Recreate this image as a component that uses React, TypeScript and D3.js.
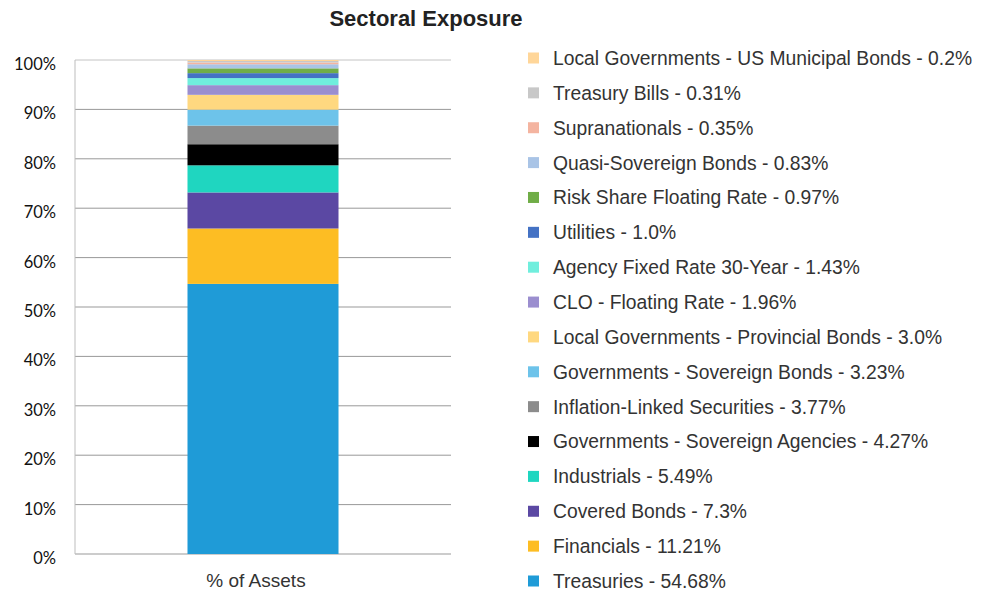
import React from 'react'
import * as d3 from 'd3'

// sectors, bottom of the stack first
const sectors = [
	'Treasuries',
	'Financials',
	'Covered Bonds',
	'Industrials',
	'Governments - Sovereign Agencies',
	'Inflation-Linked Securities',
	'Governments - Sovereign Bonds',
	'Local Governments - Provincial Bonds',
	'CLO - Floating Rate',
	'Agency Fixed Rate 30-Year',
	'Utilities',
	'Risk Share Floating Rate',
	'Quasi-Sovereign Bonds',
	'Supranationals',
	'Treasury Bills',
	'Local Governments - US Municipal Bonds'
]
const values = [54.68, 11.21, 7.3, 5.49, 4.27, 3.77, 3.23, 3.0, 1.96, 1.43, 1.0, 0.97, 0.83, 0.35, 0.31, 0.2]
const valueLabels = ['54.68%', '11.21%', '7.3%', '5.49%', '4.27%', '3.77%', '3.23%', '3.0%', '1.96%', '1.43%', '1.0%', '0.97%', '0.83%', '0.35%', '0.31%', '0.2%']
const colors = [
	'#1f9bd7', '#fdbd23', '#5b48a3', '#1fd6c0', '#000000', '#8c8c8c', '#6dc3ea', '#ffd880',
	'#9b8ecf', '#70eedd', '#4472c4', '#70ad47', '#a9c4e6', '#f4b4a0', '#c8c8c8', '#ffd699'
]
const categories = ['% of Assets']
const yTicks = [0, 10, 20, 30, 40, 50, 60, 70, 80, 90, 100]

const W = 982
const H = 592
const plot = { left: 75, right: 451, top: 60, bottom: 554 }

const App = () => {
	const y = d3.scaleLinear().domain([0, 100]).range([plot.bottom, plot.top])
	const x = d3
		.scaleBand()
		.domain(categories)
		.range([plot.left, plot.right])
		.paddingInner(0)
		.paddingOuter(0.745)

	const stacked = d3.cumsum(values)
	const legendY = d3
		.scaleLinear()
		.domain([0, sectors.length - 1])
		.range([581, 58])

	return (
		<svg
			width={W}
			height={H}
			style={{ position: 'absolute', left: 0, top: 0, background: '#fff' }}
			fontFamily="'Liberation Sans', Arial, sans-serif"
		>
			<text x={426} y={26} textAnchor="middle" fontSize={22} fontWeight="bold" fill="#222">
				Sectoral Exposure
			</text>

			{/* grid */}
			<g>
				{yTicks.map(t => (
					<line
						key={t}
						x1={plot.left}
						x2={plot.right}
						y1={y(t)}
						y2={y(t)}
						stroke={t === 100 ? '#c4c4c4' : '#999'}
						strokeWidth={1}
					></line>
				))}
				<line x1={plot.left} x2={plot.left} y1={plot.top} y2={plot.bottom} stroke="#bdbdbd"></line>
				{yTicks.map(t => (
					<text
						key={t}
						x={56}
						y={y(t) + 4}
						dy="0.36em"
						textAnchor="end"
						fontSize={16.5}
						fontFamily="Lato, 'Open Sans', sans-serif"
						fill="#111"
					>
						{t}%
					</text>
				))}
			</g>

			{/* bar */}
			<g>
				{values.map((v, i) => {
					const y0 = stacked[i] - v
					const y1 = stacked[i]
					return (
						<rect
							key={i}
							x={x(categories[0])}
							width={x.bandwidth()}
							y={y(y1)}
							height={y(y0) - y(y1)}
							fill={colors[i]}
						></rect>
					)
				})}
			</g>

			<text x={256} y={587} textAnchor="middle" fontSize={19} fill="#333">
				{categories[0]}
			</text>

			{/* legend */}
			<g>
				{sectors.map((s, i) => (
					<g key={s} transform={`translate(528, ${legendY(i)})`}>
						<rect x={0} y={-5.5} width={11} height={11} fill={colors[i]}></rect>
						<text x={25} y={0} dy="0.36em" fontSize={19.3} fill="#333">
							{s} - {valueLabels[i]}
						</text>
					</g>
				))}
			</g>
		</svg>
	)
}

export default App
